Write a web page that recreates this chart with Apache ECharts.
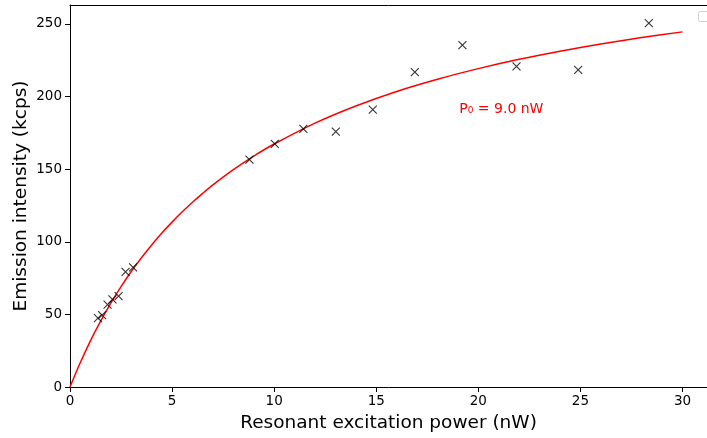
<!DOCTYPE html>
<html>
<head>
<meta charset="utf-8">
<script src="https://cdn.jsdelivr.net/npm/echarts@6/dist/echarts.min.js"></script>
<style>
html,body{margin:0;padding:0;background:#fff;}
#c{width:707px;height:438px;}
</style>
</head>
<body>
<div id="c"></div>
<script>
// Measured data (power in nW, intensity in kcps)
const powerData = [1.37, 1.57, 1.84, 2.08, 2.38, 2.72, 3.09, 8.79, 10.03, 11.43, 13.02, 14.83, 16.89, 19.22, 21.87, 24.89, 28.35];
const intensityData = [47.4, 49.5, 56.7, 60.4, 62.5, 79.3, 82.4, 156.6, 167.4, 177.7, 175.8, 190.9, 216.8, 235.4, 220.7, 218.4, 250.5];
// Fitted saturation curve
const fitPower = [0, 0.5, 1, 1.5, 2, 2.5, 3, 3.5, 4, 4.5, 5, 5.5, 6, 6.5, 7, 8, 9, 10, 12, 14, 16, 18, 20, 22, 24, 26, 28, 30];
const fitIntensity = [0, 16.7, 31.8, 45.4, 57.8, 69.1, 79.5, 89.0, 97.8, 106.0, 113.5, 120.6, 127.2, 133.3, 139.1, 149.6, 159.0, 167.3, 181.7, 193.5, 203.5, 211.9, 219.2, 225.6, 231.2, 236.2, 240.6, 244.5];
const xTicks = [0, 5, 10, 15, 20, 25, 30];
const yTicks = [0, 50, 100, 150, 200, 250];
const annotation = 'P\u2080 = 9.0 nW';

const font = 'DejaVu Sans';
const xMax = 31.2;
const chart = echarts.init(document.getElementById('c'), null, {renderer: 'canvas'});
chart.setOption({
  animation: false,
  backgroundColor: '#fff',
  grid: {left: 70, top: 5, right: 0, height: 383, show: false},
  xAxis: [{
    type: 'value', min: 0, max: xMax,
    name: 'Resonant excitation power (nW)', nameLocation: 'middle', nameGap: 27,
    nameMoveOverlap: false,
    nameTextStyle: {fontFamily: font, fontSize: 18.5, color: '#000'},
    axisLine: {show: true, lineStyle: {color: '#000', width: 1}},
    axisTick: {show: true, length: 5, lineStyle: {color: '#000'}, customValues: xTicks},
    axisLabel: {fontFamily: font, fontSize: 13.5, color: '#000', margin: 7, customValues: xTicks},
    splitLine: {show: false}
  }, {
    type: 'value', min: 0, max: xMax, position: 'top',
    axisLine: {show: true, onZero: false, lineStyle: {color: '#000', width: 1}},
    axisTick: {show: false}, axisLabel: {show: false}, splitLine: {show: false}
  }],
  yAxis: {
    type: 'value', min: 0, max: 263,
    name: 'Emission intensity (kcps)', nameLocation: 'middle', nameGap: 39,
    nameMoveOverlap: false,
    nameTextStyle: {fontFamily: font, fontSize: 18.5, color: '#000'},
    axisLine: {show: true, lineStyle: {color: '#000', width: 1}},
    axisTick: {show: true, length: 5, lineStyle: {color: '#000'}, customValues: yTicks},
    axisLabel: {fontFamily: font, fontSize: 13.5, color: '#000', margin: 8, customValues: yTicks},
    splitLine: {show: false}
  },
  series: [
    {
      type: 'line',
      data: fitPower.map((p, i) => [p, fitIntensity[i]]),
      smooth: 0.3,
      showSymbol: false,
      lineStyle: {color: '#ff0000', width: 1.5},
      z: 2
    },
    {
      type: 'scatter',
      data: powerData.map((p, i) => [p, intensityData[i]]),
      symbol: 'path://M0,0L10,10M10,0L0,10',
      symbolSize: 8,
      itemStyle: {color: 'transparent', borderColor: '#000', borderWidth: 1.1},
      z: 3
    }
  ],
  graphic: [
    {
      type: 'rect', right: -6, top: 11,
      shape: {width: 14, height: 10, r: 2},
      style: {fill: '#fff', stroke: '#d0d0d0', lineWidth: 1}
    }
  ]
});
// annotation anchored at data coordinates
const pos = chart.convertToPixel({gridIndex: 0}, [19.07, 191]);
chart.setOption({
  graphic: [
    {},
    {
      type: 'text', x: pos[0], y: pos[1],
      style: {text: annotation, fill: '#ff0000', font: '14px "DejaVu Sans"', textAlign: 'left', textVerticalAlign: 'middle'}
    }
  ]
});
</script>
</body>
</html>
